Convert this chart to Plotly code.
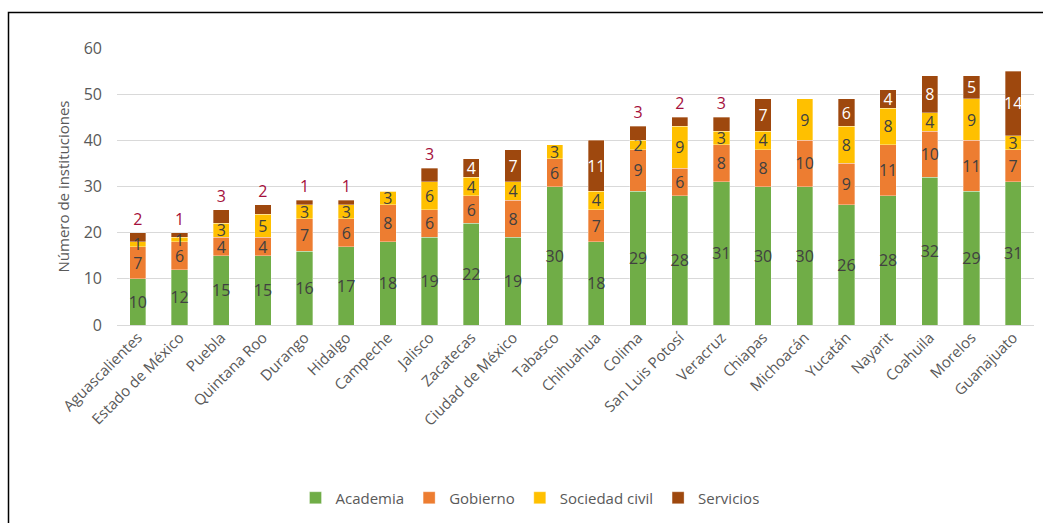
import plotly.graph_objects as go

estados = ["Aguascalientes", "Estado de México", "Puebla", "Quintana Roo", "Durango",
           "Hidalgo", "Campeche", "Jalisco", "Zacatecas", "Ciudad de México", "Tabasco",
           "Chihuahua", "Colima", "San Luis Potosí", "Veracruz", "Chiapas", "Michoacán",
           "Yucatán", "Nayarit", "Coahuila", "Morelos", "Guanajuato"]
academia = [10, 12, 15, 15, 16, 17, 18, 19, 22, 19, 30, 18, 29, 28, 31, 30, 30, 26, 28, 32, 29, 31]
gobierno = [7, 6, 4, 4, 7, 6, 8, 6, 6, 8, 6, 7, 9, 6, 8, 8, 10, 9, 11, 10, 11, 7]
sociedad_civil = [1, 1, 3, 5, 3, 3, 3, 6, 4, 4, 3, 4, 2, 9, 3, 4, 9, 8, 8, 4, 9, 3]
servicios = [2, 1, 3, 2, 1, 1, 0, 3, 4, 7, 0, 11, 3, 2, 3, 7, 0, 6, 4, 8, 5, 14]
y_ticks = [0, 10, 20, 30, 40, 50, 60]

FONT = "Open Sans"
LABEL = "#404040"
LBL_SIZE = 16
series = [
    ("Academia", academia, "#70AD47"),
    ("Gobierno", gobierno, "#ED7D31"),
]

fig = go.Figure()
for name, vals, color in series:
    fig.add_trace(go.Bar(
        x=estados, y=vals, name=name,
        marker=dict(color=color, line=dict(color="rgba(255,255,255,0.55)", width=0.6)),
        text=[str(v) if v else "" for v in vals],
        textposition="inside", insidetextanchor="middle", textangle=0,
        constraintext="none",
        insidetextfont=dict(family=FONT, size=LBL_SIZE, color=LABEL),
        cliponaxis=False,
    ))

# segments too thin for an inside label get a free-floating label instead
fig.add_trace(go.Bar(
    x=estados, y=sociedad_civil, name="Sociedad civil",
    marker=dict(color="#FFC000", line=dict(color="rgba(255,255,255,0.55)", width=0.6)),
    text=[str(v) if v > 1 else "" for v in sociedad_civil],
    textposition="inside", insidetextanchor="middle", textangle=0,
    constraintext="none",
    insidetextfont=dict(family=FONT, size=LBL_SIZE, color=LABEL),
    cliponaxis=False,
))
annotations = []
for e, a, g, s in zip(estados, academia, gobierno, sociedad_civil):
    if 0 < s <= 1:
        annotations.append(dict(x=e, y=a + g + s / 2, text=str(s), showarrow=False,
                                font=dict(family=FONT, size=LBL_SIZE, color=LABEL),
                                xref="x", yref="y"))

# small "Servicios" segments get their label above the stack
serv_pos = ["outside" if v <= 3 else "inside" for v in servicios]
fig.add_trace(go.Bar(
    x=estados, y=servicios, name="Servicios",
    marker=dict(color="#9E480E", line=dict(color="rgba(255,255,255,0.55)", width=0.6)),
    text=[str(v) if v else "" for v in servicios],
    textposition=serv_pos, insidetextanchor="middle", textangle=0,
    constraintext="none",
    insidetextfont=dict(family=FONT, size=LBL_SIZE, color="white"),
    outsidetextfont=dict(family=FONT, size=LBL_SIZE, color="#A50F3C"),
    cliponaxis=False,
))

W, H = 1043, 523
L, R, T, B = 117, 9, 48, 198
pw, ph = W - L - R, H - T - B

def px_x(p):
    return (p - L) / pw

def px_y(p):
    return (H - B - p) / ph

fig.update_layout(
    width=W, height=H,
    margin=dict(l=L, r=R, t=T, b=B),
    barmode="stack", bargap=0.61,
    plot_bgcolor="white", paper_bgcolor="white",
    font=dict(family=FONT, color="#595959", size=15),
    uniformtext=dict(minsize=LBL_SIZE, mode="show"),
    showlegend=True,
    legend=dict(orientation="h", x=px_x(530), xanchor="center", y=px_y(498), yanchor="middle",
                font=dict(family=FONT, size=15, color="#595959"), itemwidth=30,
                traceorder="normal"),
    xaxis=dict(tickangle=-45, tickfont=dict(family=FONT, size=15, color="#595959"),
               showgrid=False, showline=False, ticks=""),
    yaxis=dict(range=[0, 60], tickvals=y_ticks, showgrid=True, gridcolor="#D9D9D9", gridwidth=1.3,
               zeroline=True, zerolinecolor="#D9D9D9", zerolinewidth=1.3,
               tickfont=dict(family=FONT, size=16, color="#595959"), ticks="",
               ticklabelstandoff=14,
               title=dict(text="Número de instituciones", standoff=10,
                          font=dict(family=FONT, size=15, color="#595959"))),
    annotations=annotations,
    shapes=[dict(type="rect", xref="paper", yref="paper",
                 x0=px_x(8.5), x1=px_x(1050), y0=px_y(12.5), y1=px_y(540),
                 line=dict(color="black", width=1.5), fillcolor="rgba(0,0,0,0)", layer="below")],
)

fig.write_html("out.html")
